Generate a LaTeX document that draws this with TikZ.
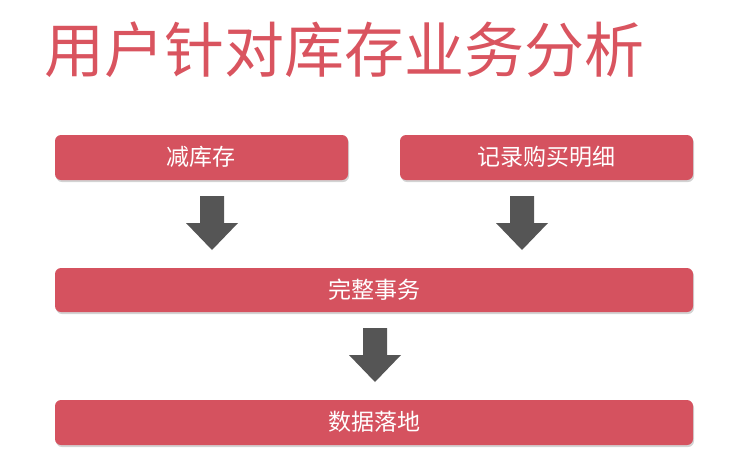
\documentclass[tikz,border=0pt]{standalone}
\usepackage{fontspec}
\newfontfamily\cjk{Noto Sans CJK SC}
\usetikzlibrary{shadows}
\definecolor{boxred}{HTML}{D5525F}
\definecolor{titlered}{HTML}{D9545F}
\definecolor{arrgray}{HTML}{555555}
\begin{document}
\begin{tikzpicture}[x=1pt,y=-1pt,
  bar/.style={fill=boxred,rounded corners=6pt,drop shadow={shadow xshift=1pt,shadow yshift=-2pt,opacity=0.35}},
  lbl/.style={text=white,font=\cjk\fontsize{23}{26}\selectfont},
  dnarrow/.style={fill=arrgray}]
\useasboundingbox (0,0) rectangle (756,469);
\node[anchor=west,text=titlered,font=\cjk\fontsize{60}{66}\selectfont,inner sep=0pt] (title) at (44,50) {用户针对库存业务分析};
\path[bar] (55,135) rectangle (348,180);
\node[lbl] (b1) at (201,157) {减库存};
\path[bar] (400,135) rectangle (693,180);
\node[lbl] (b2) at (546,157) {记录购买明细};
\path[bar] (55,268) rectangle (693,312);
\node[lbl] (b3) at (374,290) {完整事务};
\path[bar] (55,400) rectangle (693,445);
\node[lbl] (b4) at (374,422) {数据落地};
\foreach \cx/\ty in {212/196,522/196,375/328}{
  \fill[dnarrow] (\cx-12,\ty) -- (\cx+12,\ty) -- (\cx+12,\ty+27) -- (\cx+26,\ty+27)
    -- (\cx,\ty+54) -- (\cx-26,\ty+27) -- (\cx-12,\ty+27) -- cycle;
}
\end{tikzpicture}
\end{document}
